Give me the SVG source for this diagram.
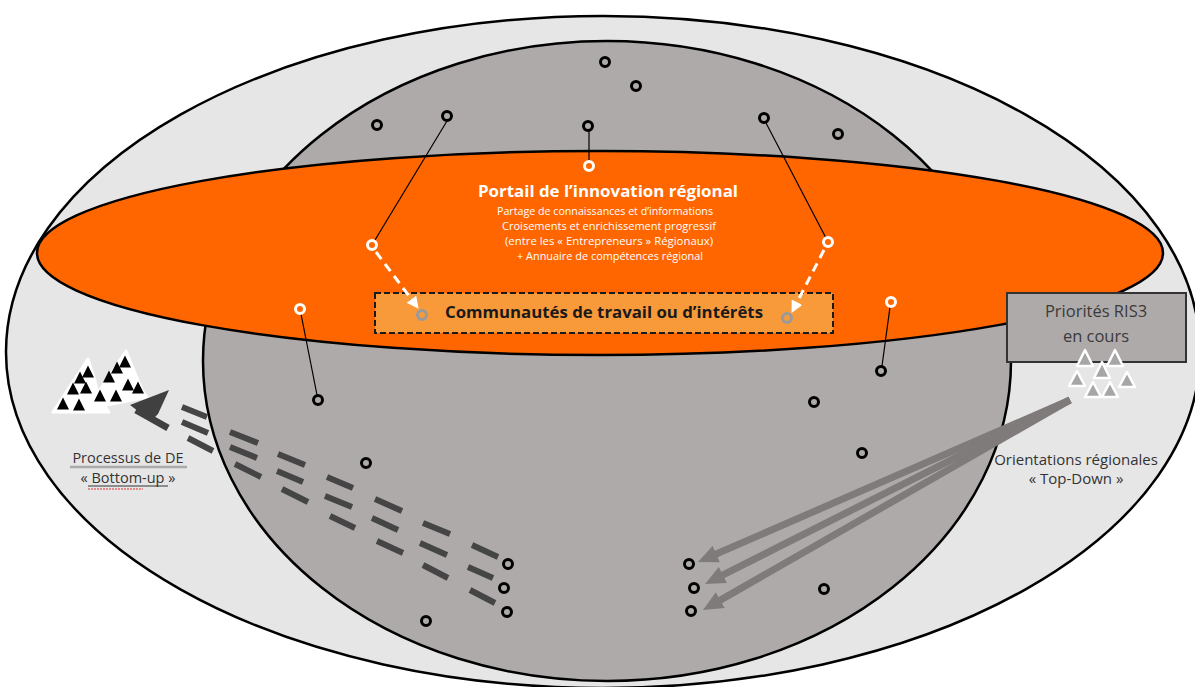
<svg xmlns="http://www.w3.org/2000/svg" width="1195" height="687" viewBox="0 0 1195 687">
<defs>
<style>
.ring{fill:none;stroke:#000;stroke-width:3}
.wring{fill:none;stroke:#fff;stroke-width:3}
.gring{fill:none;stroke:#9a9a9a;stroke-width:3}
.thin{fill:none;stroke:#000;stroke-width:1.2}
.dash{stroke:#454545;stroke-width:6}
.garrow{fill:none;stroke:#7f7b7a;stroke-width:7}
.wdash{fill:none;stroke:#fff;stroke-width:3;stroke-dasharray:9 6}
.t{font-family:'Open Sans','Liberation Sans',sans-serif}
.btri{fill:#000}
.gtri{fill:#a6a6a6;stroke:#fff;stroke-width:2.5;stroke-linejoin:round}
</style>
<marker id="wh" markerUnits="userSpaceOnUse" viewBox="0 0 12 12" markerWidth="12" markerHeight="12" refX="1" refY="6" orient="auto"><path d="M0,0 L12,6 L0,12 z" fill="#fff"/></marker>
<marker id="gh" markerUnits="userSpaceOnUse" viewBox="0 0 20 18" markerWidth="20" markerHeight="18" refX="2" refY="9" orient="auto"><path d="M0,0 L20,9 L0,18 z" fill="#7f7b7a"/></marker>
<path id="bt" d="M0,-6.5 L6,5.5 L-6,5.5 z"/>
</defs>

<g id="outer-region">
<ellipse cx="603" cy="352" rx="597" ry="336" fill="#e6e6e6" stroke="#000" stroke-width="2.5"/>
</g>
<g id="region-circle">
<ellipse cx="607" cy="361" rx="404" ry="320" fill="#aeaaaa" stroke="#000" stroke-width="2.5"/>
</g>

<g id="bottom-up-dashes">
<line class="dash" x1="182" y1="407" x2="207" y2="417"/><line class="dash" x1="182" y1="422" x2="208" y2="433"/><line class="dash" x1="188" y1="438" x2="213" y2="451"/>
<line class="dash" x1="230" y1="432" x2="258" y2="443"/><line class="dash" x1="230" y1="447" x2="257" y2="458"/><line class="dash" x1="235" y1="464" x2="261" y2="477"/>
<line class="dash" x1="278" y1="454" x2="305" y2="465"/><line class="dash" x1="277" y1="471" x2="303" y2="482"/><line class="dash" x1="282" y1="489" x2="308" y2="502"/>
<line class="dash" x1="327" y1="477" x2="353" y2="488"/><line class="dash" x1="325" y1="496" x2="352" y2="507"/><line class="dash" x1="330" y1="516" x2="355" y2="528"/>
<line class="dash" x1="375" y1="499" x2="402" y2="511"/><line class="dash" x1="372" y1="518" x2="398" y2="530"/><line class="dash" x1="377" y1="541" x2="403" y2="553"/>
<line class="dash" x1="423" y1="523" x2="450" y2="534"/><line class="dash" x1="420" y1="543" x2="447" y2="555"/><line class="dash" x1="423" y1="565" x2="448" y2="578"/>
<line class="dash" x1="472" y1="545" x2="498" y2="557"/><line class="dash" x1="468" y1="567" x2="493" y2="578"/><line class="dash" x1="470" y1="590" x2="495" y2="603"/>
</g>

<g id="portail">
<ellipse cx="600" cy="253" rx="563" ry="102" fill="#ff6600" stroke="#000" stroke-width="2.5"/>
<text class="t" x="608" y="197" text-anchor="middle" font-size="16.5" font-weight="bold" fill="#fff" textLength="260" lengthAdjust="spacingAndGlyphs">Portail de l’innovation régional</text>
<g class="t" font-size="10" fill="#fff" text-anchor="middle">
<text x="605" y="215" textLength="216" lengthAdjust="spacingAndGlyphs">Partage de connaissances et d’informations</text>
<text x="609" y="230" textLength="214" lengthAdjust="spacingAndGlyphs">Croisements et enrichissement progressif</text>
<text x="609" y="245" textLength="208" lengthAdjust="spacingAndGlyphs">(entre les « Entrepreneurs » Régionaux)</text>
<text x="610" y="260" textLength="186" lengthAdjust="spacingAndGlyphs">+ Annuaire de compétences régional</text>
</g>
</g>

<g id="communautes">
<rect x="375" y="293" width="458" height="40" fill="#f8993a" stroke="#1a1a1a" stroke-width="2" stroke-dasharray="6 3"/>
<text class="t" x="604" y="318" text-anchor="middle" font-size="16" font-weight="bold" fill="#1a1a1a" textLength="318" lengthAdjust="spacingAndGlyphs">Communautés de travail ou d’intérêts</text>
<circle class="gring" cx="422" cy="315" r="4.5"/>
<circle class="gring" cx="787" cy="318" r="4.5"/>
</g>

<g id="connectors">
<line class="thin" x1="447" y1="121" x2="375" y2="240"/>
<line class="thin" x1="589" y1="131" x2="589" y2="161"/>
<line class="thin" x1="766" y1="123" x2="826" y2="238"/>
<line class="thin" x1="301" y1="314" x2="317" y2="395"/>
<line class="thin" x1="890" y1="307" x2="882" y2="366"/>
<path class="wdash" d="M376,252 L412,300" marker-end="url(#wh)"/>
<path class="wdash" d="M824,250 L796.6,303.1" marker-end="url(#wh)"/>
<path class="garrow" d="M1070,400 L714.5,554.8" marker-end="url(#gh)"/>
<path class="garrow" d="M1070,400 L721.1,575.9" marker-end="url(#gh)"/>
<path class="garrow" d="M1070,400 L718.6,601.1" marker-end="url(#gh)"/>
</g>

<g id="white-nodes">
<circle class="wring" cx="589" cy="166" r="4.5"/>
<circle class="wring" cx="372" cy="245" r="4.5"/>
<circle class="wring" cx="828" cy="242" r="4.5"/>
<circle class="wring" cx="300" cy="309" r="4.5"/>
<circle class="wring" cx="891" cy="302" r="4.5"/>
</g>

<g id="black-nodes">
<circle class="ring" cx="605" cy="62" r="4.5"/>
<circle class="ring" cx="636" cy="86" r="4.5"/>
<circle class="ring" cx="377" cy="125" r="4.5"/>
<circle class="ring" cx="447" cy="116" r="4.5"/>
<circle class="ring" cx="588" cy="126" r="4.5"/>
<circle class="ring" cx="764" cy="118" r="4.5"/>
<circle class="ring" cx="838" cy="134" r="4.5"/>
<circle class="ring" cx="318" cy="400" r="4.5"/>
<circle class="ring" cx="881" cy="371" r="4.5"/>
<circle class="ring" cx="814" cy="402" r="4.5"/>
<circle class="ring" cx="862" cy="453" r="4.5"/>
<circle class="ring" cx="366" cy="463" r="4.5"/>
<circle class="ring" cx="508" cy="564" r="4.5"/>
<circle class="ring" cx="504" cy="588" r="4.5"/>
<circle class="ring" cx="507" cy="612" r="4.5"/>
<circle class="ring" cx="426" cy="621" r="4.5"/>
<circle class="ring" cx="689" cy="564" r="4.5"/>
<circle class="ring" cx="694" cy="588" r="4.5"/>
<circle class="ring" cx="691" cy="611" r="4.5"/>
<circle class="ring" cx="824" cy="589" r="4.5"/>
</g>

<g id="bottom-up">
<polygon points="88,359 53,412 109,412 99,398 95,381" fill="#fff" stroke="#fff" stroke-width="3" stroke-linejoin="round"/>
<polygon points="126,351 93,400 97,407 147,397 142,390" fill="#fff" stroke="#fff" stroke-width="3" stroke-linejoin="round"/>
<use href="#bt" class="btri" x="88" y="372"/>
<use href="#bt" class="btri" x="80" y="378"/>
<use href="#bt" class="btri" x="73" y="389"/>
<use href="#bt" class="btri" x="86" y="388"/>
<use href="#bt" class="btri" x="63" y="404"/>
<use href="#bt" class="btri" x="79" y="405"/>
<use href="#bt" class="btri" x="125" y="362"/>
<use href="#bt" class="btri" x="117" y="368"/>
<use href="#bt" class="btri" x="109" y="377"/>
<use href="#bt" class="btri" x="128" y="385"/>
<use href="#bt" class="btri" x="138" y="388"/>
<use href="#bt" class="btri" x="100" y="396"/>
<use href="#bt" class="btri" x="116" y="396"/>
<polygon points="169,390 130,405 151,421 158,414" fill="#404040"/>
<line x1="136" y1="410" x2="168" y2="428" stroke="#404040" stroke-width="7"/>
<text class="t" x="128" y="463" text-anchor="middle" font-size="14.5" fill="#333">Processus de DE</text>
<line x1="70" y1="467" x2="187" y2="467" stroke="#aaa" stroke-width="2.5"/>
<text class="t" x="128" y="483" text-anchor="middle" font-size="14.5" fill="#333">« Bottom-up »</text>
<line x1="88" y1="486" x2="168" y2="486" stroke="#333" stroke-width="1"/>
<line x1="88" y1="489" x2="143" y2="489" stroke="#e03030" stroke-width="1" stroke-dasharray="2 1"/>
</g>

<g id="top-down">
<rect x="1007" y="293" width="179" height="69" fill="#aeaaaa" stroke="#333" stroke-width="2"/>
<text class="t" x="1096" y="317" text-anchor="middle" font-size="16.5" fill="#3a3a3a">Priorités RIS3</text>
<text class="t" x="1096" y="342" text-anchor="middle" font-size="16.5" fill="#3a3a3a">en cours</text>
<polygon class="gtri" points="1085,350 1093,366 1077,366"/>
<polygon class="gtri" points="1115,350 1123,366 1107,366"/>
<polygon class="gtri" points="1102,362 1110,378 1094,378"/>
<polygon class="gtri" points="1077,371 1085,386 1069,386"/>
<polygon class="gtri" points="1127,372 1135,387 1119,387"/>
<polygon class="gtri" points="1093,382 1101,397 1085,397"/>
<polygon class="gtri" points="1110,382 1118,397 1102,397"/>
<text class="t" x="1076" y="465" text-anchor="middle" font-size="15" fill="#333">Orientations régionales</text>
<text class="t" x="1076" y="484" text-anchor="middle" font-size="15" fill="#333">« Top-Down »</text>
</g>
</svg>
